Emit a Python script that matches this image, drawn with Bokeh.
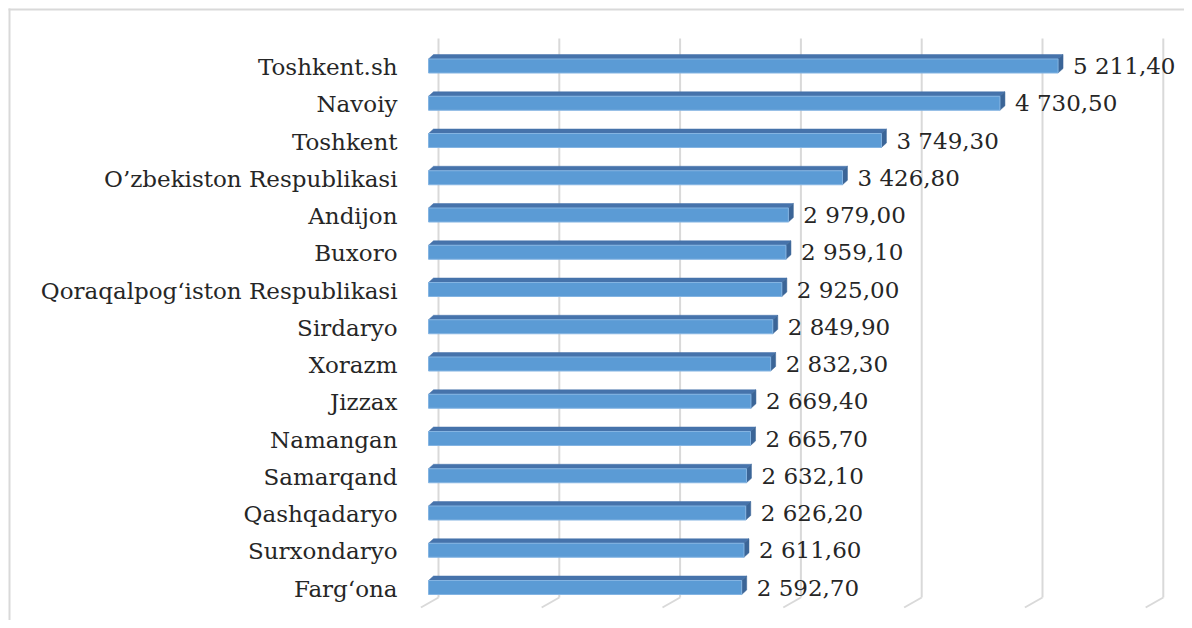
from bokeh.plotting import figure
from bokeh.models import Range1d, ColumnDataSource
from bokeh.embed import file_html
from bokeh.resources import INLINE

# ---- data (top to bottom) ----
regions = ["Toshkent.sh", "Navoiy", "Toshkent", "O’zbekiston Respublikasi", "Andijon",
           "Buxoro", "Qoraqalpog‘iston Respublikasi", "Sirdaryo", "Xorazm", "Jizzax",
           "Namangan", "Samarqand", "Qashqadaryo", "Surxondaryo", "Farg‘ona"]
values = [5211.40, 4730.50, 3749.30, 3426.80, 2979.00, 2959.10, 2925.00, 2849.90,
          2832.30, 2669.40, 2665.70, 2632.10, 2626.20, 2611.60, 2592.70]
grid_values = [0, 1000, 2000, 3000, 4000, 5000, 6000]

def fmt(v):
    s = f"{v:,.2f}"
    return s.replace(",", " ").replace(".", ",")

labels = [fmt(v) for v in values]

# ---- layout constants (pixels, canvas coordinates) ----
W, H = 1184, 620
SX = 0.1208           # px per value unit
SY = 37.25            # px per category
X0 = 428              # canvas x of value 0 (bar front face)
Y0 = 65.5             # canvas y of first category

def dx(px):
    return px / SX

def dy(px):
    return px / SY

def cx(px):   # canvas x -> data x
    return (px - X0) / SX

def cy(px):   # canvas y -> data y
    return (px - Y0) / SY

p = figure(width=W, height=H, output_backend="svg", toolbar_location=None,
           x_range=Range1d(cx(0), cx(W)), y_range=Range1d(cy(H), cy(0)),
           x_axis_location=None, y_axis_location=None,
           min_border_left=0, min_border_right=0,
           min_border_top=0, min_border_bottom=0)
p.outline_line_color = None
p.grid.visible = False
p.background_fill_color = "white"
p.border_fill_color = "white"

ks = list(range(len(regions)))

# ---- chart border (top and left edges) ----
p.segment(x0=[cx(8), cx(9)], y0=[cy(9), cy(8)], x1=[cx(W + 10), cx(9)], y1=[cy(9), cy(H + 10)],
          line_color="#d9d9d9", line_width=2)

# ---- 3D gridlines (back wall + floor) ----
BACK = 10.0
g_top = cy(38)
g_bot = cy(597)
gx = [g + dx(BACK) for g in grid_values]
p.segment(x0=gx, y0=[g_top] * len(gx), x1=gx, y1=[g_bot] * len(gx),
          line_color="#d9d9d9", line_width=2)
p.segment(x0=gx, y0=[g_bot] * len(gx),
          x1=[g + dx(BACK - 17.6) for g in grid_values], y1=[g_bot + dy(10)] * len(gx),
          line_color="#d9d9d9", line_width=2)

# ---- bars ----
HALF = 7.0
DEP_X, DEP_Y = 5.0, 4.5
tops = [k - dy(HALF) for k in ks]
bots = [k + dy(HALF) for k in ks]

top_xs, top_ys, side_xs, side_ys = [], [], [], []
for k, v, t, b in zip(ks, values, tops, bots):
    top_xs.append([0, v, v + dx(DEP_X), dx(DEP_X)])
    top_ys.append([t, t, t - dy(DEP_Y), t - dy(DEP_Y)])
    side_xs.append([v, v + dx(DEP_X), v + dx(DEP_X), v])
    side_ys.append([t, t - dy(DEP_Y), b - dy(DEP_Y), b])

p.patches(xs=top_xs, ys=top_ys, fill_color="#4673AB", line_color="#4673AB", line_width=0.5)
p.patches(xs=side_xs, ys=side_ys, fill_color="#3B6597", line_color="#3B6597", line_width=0.5)
p.hbar(y=ks, left=0, right=values, height=dy(2 * HALF),
       fill_color="#5B9BD5", line_color="#84B4E2", line_width=1)

FONT = {"value": "DejaVu Serif"}

# ---- value labels ----
src = ColumnDataSource(dict(x=values, y=ks, t=labels))
p.text(x="x", y="y", text="t", source=src, x_offset=15, y_offset=0,
       text_align="left", text_baseline="middle",
       text_font=FONT, text_font_size="23px", text_color="#262626")

# ---- category labels ----
csrc = ColumnDataSource(dict(x=[0] * len(ks), y=ks, t=regions))
p.text(x="x", y="y", text="t", source=csrc, x_offset=-31, y_offset=1,
       text_align="right", text_baseline="middle",
       text_font=FONT, text_font_size="23px", text_color="#262626")

open("out.html", "w").write(file_html(p, INLINE))
